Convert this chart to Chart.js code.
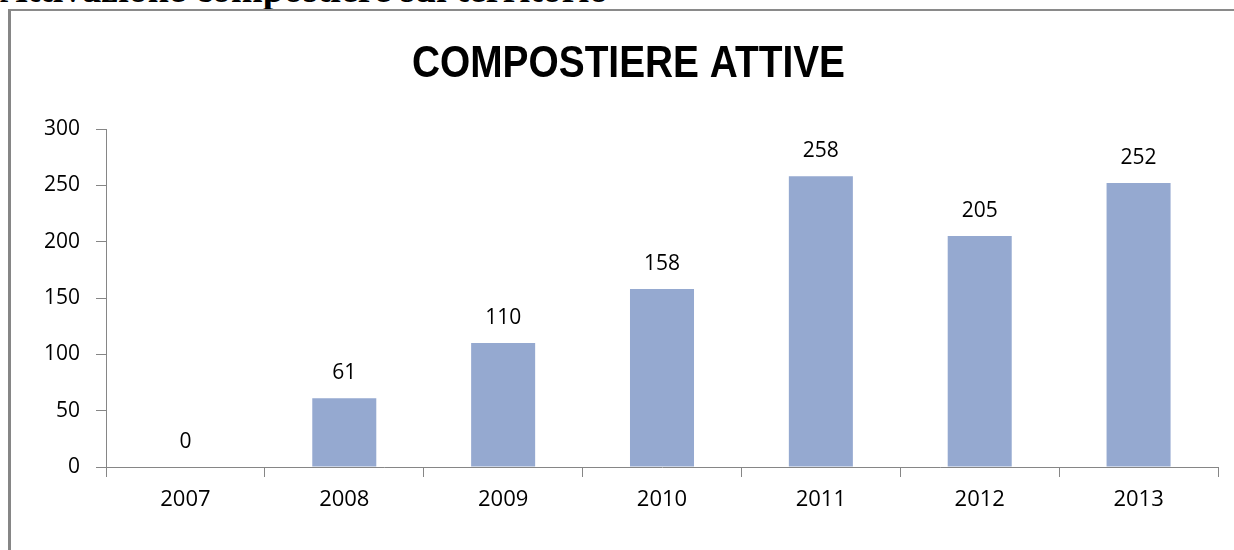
<!DOCTYPE html>
<html>
<head>
<meta charset="utf-8">
<script src="https://cdn.jsdelivr.net/npm/chart.js@4.4.1/dist/chart.umd.min.js"></script>
<style>
  html, body { margin: 0; padding: 0; background: #fff; overflow: hidden; }
  body { width: 1234px; height: 550px; position: relative; }
  .doc-head {
    position: absolute; left: 0; top: -30px; margin: 0;
    font: bold 38px/38px "Liberation Serif", "Times New Roman", serif;
    color: #000; white-space: nowrap;
  }
  .frame {
    position: absolute; left: 8px; top: 9px; width: 1400px; height: 700px;
    border-left: 3px solid #868686; border-top: 2px solid #8a8a8a;
  }
  #wrap { position: absolute; left: 10px; top: 0; width: 1237px; height: 550px; }
</style>
</head>
<body>
<p class="doc-head">Attivazione compostiere sul territorio</p>
<div class="frame"></div>
<div id="wrap"><canvas id="chartCompostiere"></canvas></div>
<script>
const years = ["2007", "2008", "2009", "2010", "2011", "2012", "2013"];
const activeBins = [0, 61, 110, 158, 258, 205, 252];
const yTicks = [0, 50, 100, 150, 200, 250, 300];
const chartTitle = "COMPOSTIERE ATTIVE";

const axisGrey = "#868686";
const labelFont = { family: "'Open Sans', 'Noto Sans', sans-serif", size: 21 };

// titolo stretto (tipo Calibri grassetto): compresso in orizzontale
const narrowTitle = {
  id: "narrowTitle",
  afterDraw(chart) {
    const { ctx } = chart;
    ctx.save();
    ctx.font = "bold 45px 'Liberation Sans', Arial, sans-serif";
    ctx.fillStyle = "#000";
    ctx.textAlign = "center";
    ctx.textBaseline = "alphabetic";
    const w = ctx.measureText(chartTitle).width;
    const k = 433 / w;
    ctx.translate(chart.width / 2, 77);
    ctx.scale(k, 1);
    ctx.fillText(chartTitle, 0, 0);
    ctx.restore();
  },
};

// etichette dei valori sopra le barre
const barValueLabels = {
  id: "barValueLabels",
  afterDatasetsDraw(chart) {
    const { ctx } = chart;
    const meta = chart.getDatasetMeta(0);
    ctx.save();
    ctx.font = `${labelFont.size}px ${labelFont.family}`;
    ctx.fillStyle = "#000";
    ctx.textAlign = "center";
    ctx.textBaseline = "alphabetic";
    meta.data.forEach((bar, i) => {
      ctx.fillText(String(activeBins[i]), bar.x, bar.y - 19);
    });
    ctx.restore();
  },
};

new Chart(document.getElementById("chartCompostiere"), {
  type: "bar",
  data: {
    labels: years,
    datasets: [
      {
        label: chartTitle,
        data: activeBins,
        backgroundColor: "#95A9D0",
        barPercentage: 0.403,
        categoryPercentage: 1.0,
      },
    ],
  },
  options: {
    responsive: true,
    maintainAspectRatio: false,
    animation: false,
    layout: { padding: { left: 0, right: 29, top: 129, bottom: 0 } },
    plugins: {
      legend: { display: false },
      tooltip: { enabled: false },
      title: { display: false },
    },
    scales: {
      y: {
        min: 0,
        max: 300,
        afterBuildTicks: (s) => { s.ticks = yTicks.map((v) => ({ value: v })); },
        afterFit: (s) => { s.width = 96; },
        ticks: { color: "#000", font: labelFont, padding: 16 },
        grid: { drawOnChartArea: false, drawTicks: true, tickLength: 10, color: axisGrey },
        border: { color: axisGrey, width: 1 },
      },
      x: {
        afterFit: (s) => { s.height = 83; },
        ticks: { color: "#000", font: { ...labelFont, size: 22 }, padding: 10 },
        grid: { offset: true, drawOnChartArea: false, drawTicks: true, tickLength: 10, color: axisGrey },
        border: { color: axisGrey, width: 1 },
      },
    },
  },
  plugins: [barValueLabels, narrowTitle],
});
</script>
</body>
</html>
